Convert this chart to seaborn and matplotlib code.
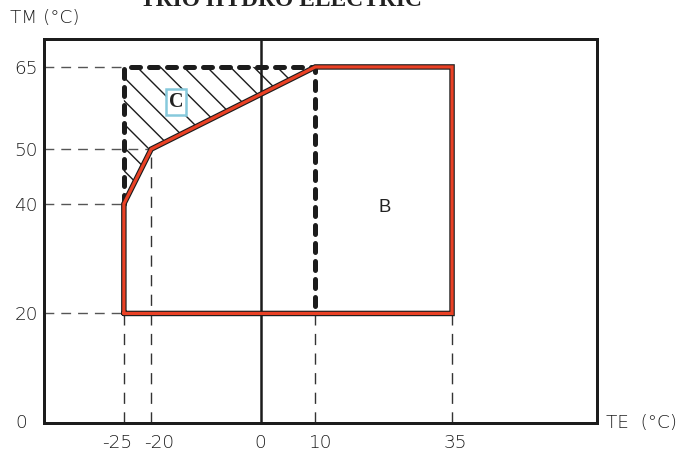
import pandas as pd
import seaborn as sns
import matplotlib.pyplot as plt
from matplotlib import patheffects as pe

# working envelope (red), TE vs TM in °C
env_te = [-25, -25, -20, 10, 35, 35, -25]
env_tm = [20, 40, 50, 65, 65, 20, 20]

# dashed extension limits
ext_te = [-25, -25, 10, 10]
ext_tm = [40, 65, 65, 20]

# hatched zone C
zone_c_te = [-25, -25, 10, -20]
zone_c_tm = [40, 65, 65, 50]

# thin guide lines towards the axes
guide_h_tm = [65, 50, 40, 20]
guide_h_te = [-25, -20, -25, -25]
guide_v_te = [-25, -20, 10, 35]
guide_v_tm = [20, 50, 20, 20]

xticks = [-25, -20, 0, 10, 35]
yticks = [20, 40, 50, 65]

DPI = 140


def px(v):
    # pixels -> points at this dpi
    return v * 72 / DPI


sns.set_style("white")
plt.rcParams["font.family"] = ["DejaVu Sans"]
plt.rcParams["hatch.linewidth"] = px(1.4)

TXT = "#1e1e1e"
INK = "#1c1c1c"
FS = px(18.5)

fig = plt.figure(figsize=(680 / DPI, 452 / DPI), dpi=DPI)
ax = fig.add_axes([44 / 680, 29 / 452, 553 / 680, 384 / 452])
ax.set_xlim(-39.6, 61.5)
ax.set_ylim(0, 70.1)

# zone C hatching
ax.fill(zone_c_te, zone_c_tm, facecolor="none", edgecolor=INK,
        hatch="\\\\", linewidth=0, zorder=1)

# guide lines
xmin = ax.get_xlim()[0]
ax.hlines(guide_h_tm, xmin, guide_h_te, colors="#555555", lw=px(1.4),
          linestyles=(0, (7, 5)), zorder=1)
ax.vlines(guide_v_te, 0, guide_v_tm, colors="#333333", lw=px(1.4),
          linestyles=(0, (8, 6)), zorder=1)

# TE = 0 axis
ax.axvline(0, color=INK, lw=px(2.5), zorder=2)

# dashed extension
ext = pd.DataFrame({"TE": ext_te, "TM": ext_tm})
sns.lineplot(data=ext, x="TE", y="TM", sort=False, estimator=None, ax=ax,
             color=INK, lw=px(5), linestyle=(0, (1.8, 1.8)),
             dash_capstyle="round", zorder=3)

# red envelope with dark outline
env = pd.DataFrame({"TE": env_te, "TM": env_tm})
sns.lineplot(data=env, x="TE", y="TM", sort=False, estimator=None, ax=ax,
             color="#ea4125", lw=px(3.2), solid_joinstyle="miter", zorder=4,
             path_effects=[pe.Stroke(linewidth=px(5.5), foreground=INK,
                                     joinstyle="miter"), pe.Normal()])

# zone labels
ax.text(22.7, 39.3, "B", ha="center", va="center", fontsize=px(18.5),
        color="#222222", family=["Liberation Sans", "DejaVu Sans"])
ax.text(-15.5, 58.6, "C", ha="center", va="center", fontsize=px(20),
        family=["Liberation Serif", "DejaVu Serif"], weight="bold",
        color="#222222",
        bbox=dict(boxstyle="square,pad=0.15", fc="white", ec="#86c9dc",
                  lw=px(2.5)), zorder=6)

# x labels, nudged apart like the drawing (-25 / -20 are close)
ax.set_xticks([])
x_nudge = [-7, 8, 0, 5, 3]
for t, dx in zip(xticks, x_nudge):
    ax.annotate(str(t), xy=(t, 0), xycoords=("data", "axes fraction"),
                xytext=(px(dx), px(-20)), textcoords="offset points",
                ha="center", va="center", fontsize=FS, color=TXT,
                weight="light")

ax.set_yticks(yticks)
ax.set_yticklabels([str(t) for t in yticks])
ax.tick_params(length=0, labelsize=FS, labelcolor=TXT)
ax.tick_params(axis="y", pad=px(6))
for lab in ax.get_yticklabels():
    lab.set_fontweight("light")
ax.set_xlabel("")
ax.set_ylabel("")
for s in ax.spines.values():
    s.set_linewidth(px(3))
    s.set_color(INK)
    s.set_visible(True)

fig.text(21 / 680, 1 - 423 / 452, "0", ha="center", va="center",
         fontsize=FS, color=TXT, weight="light")
fig.text(10 / 680, 1 - 18 / 452, "TM (°C)", ha="left", va="center",
         fontsize=FS, color=TXT, weight="light")
fig.text(606 / 680, 1 - 423 / 452, "TE  (°C)", ha="left", va="center",
         fontsize=FS, color=TXT, weight="light")

# title, cut by the top edge as in the original
fig.text(281 / 680, 1 - 6.5 / 452, "TRIO HYDRO ELECTRIC", ha="center",
         va="baseline", fontsize=px(23.5), weight="bold", color="#222222",
         family=["Liberation Serif", "DejaVu Serif"])

fig.savefig("out.png", dpi=DPI)
